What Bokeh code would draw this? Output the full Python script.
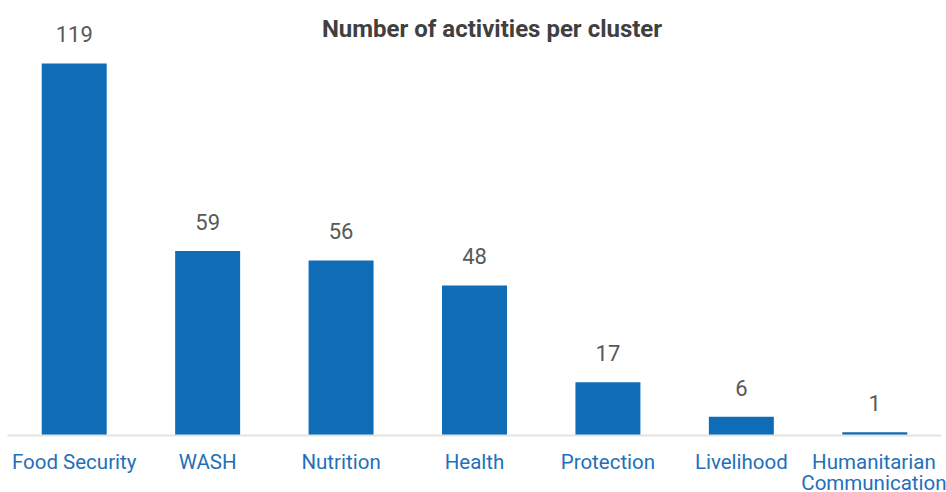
from bokeh.plotting import figure
from bokeh.models import ColumnDataSource, LabelSet, FactorRange, Range1d, Label
from bokeh.core.properties import value
from bokeh.embed import file_html
from bokeh.resources import INLINE

categories = ["Food Security", "WASH", "Nutrition", "Health", "Protection", "Livelihood",
              "Humanitarian\nCommunication"]
counts = [119, 59, 56, 48, 17, 6, 1]
labels = [str(v) for v in counts]
title_text = "Number of activities per cluster"

BAR = "#0f6cb7"
src = ColumnDataSource(dict(cat=categories, val=counts, lab=labels))

p = figure(width=946, height=497, output_backend="svg", toolbar_location=None,
           x_range=FactorRange(factors=categories, range_padding=0),
           y_range=Range1d(0, 139.15),
           min_border_left=7, min_border_right=5, min_border_top=0, min_border_bottom=0)

p.vbar(x="cat", top="val", width=0.487, source=src, color=BAR, line_color=None)

ls = LabelSet(x="cat", y="val", text="lab", source=src, text_align="center",
              text_baseline="alphabetic", y_offset=21, text_font_size=value("22px"),
              text_color=value("#595959"), text_font=value("Roboto"))
p.add_layout(ls)

title = Label(x=484.5, y=407, x_units="screen", y_units="screen", text=title_text,
              text_align="center", text_baseline="middle", text_font="Roboto",
              text_font_size="24px", text_font_style="bold", text_color="#404040")
p.add_layout(title)

p.yaxis.visible = False
p.xgrid.visible = False
p.ygrid.visible = False
p.outline_line_color = None

ax = p.xaxis[0]
ax.axis_line_color = "#e3e3e3"
ax.axis_line_width = 2
ax.major_tick_line_color = None
ax.minor_tick_line_color = None
ax.major_label_text_color = "#1f70b9"
ax.major_label_text_font = "Roboto"
ax.major_label_text_font_size = "20.5px"
ax.major_label_text_line_height = 0.875
ax.major_label_standoff = 8

open("out.html", "w").write(file_html(p, INLINE))
